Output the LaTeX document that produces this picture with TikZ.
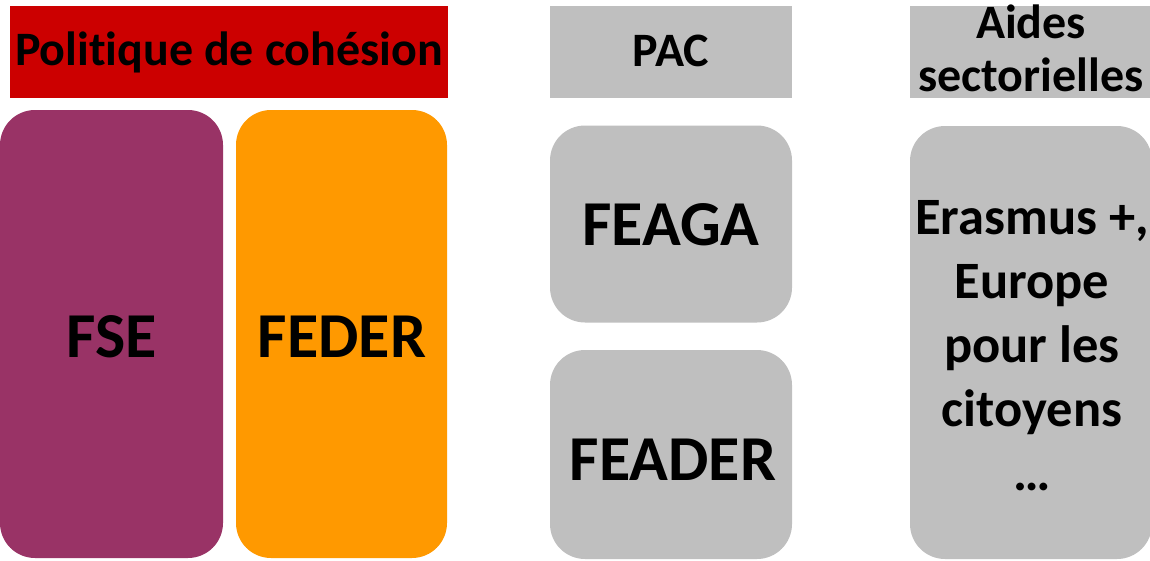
\documentclass[tikz,border=0pt]{standalone}
\usepackage{fontspec}
\setmainfont{Carlito}[Ligatures={NoCommon}]
\definecolor{hred}{HTML}{CC0000}
\definecolor{fsecol}{HTML}{993366}
\definecolor{fedcol}{HTML}{FF9900}
\definecolor{greybox}{HTML}{BFBFBF}
\newcommand{\hdrfont}{\bfseries\fontsize{48}{53}\selectfont}
\newcommand{\bigfont}{\bfseries\fontsize{64}{74}\selectfont}
\newcommand{\midfont}{\bfseries\fontsize{52.5}{64}\selectfont}
\begin{document}
\begin{tikzpicture}[x=1pt,y=-1pt,
  hdrbox/.style={rectangle, inner sep=0pt, draw=none},
  rbox/.style={rectangle, rounded corners=35pt, inner sep=0pt, draw=none},
  lbl/.style={inner sep=0pt, anchor=base, text=black, align=center}]
\useasboundingbox (0,0) rectangle (1150,560);
\clip (0,0) rectangle (1150,560);
% headers
\node[hdrbox, fill=hred, minimum width=438pt, minimum height=92pt] (hpol) at (229,52) {};
\node[hdrbox, fill=greybox, minimum width=242pt, minimum height=92pt] (hpac) at (671,52) {};
\node[hdrbox, fill=greybox, minimum width=260pt, minimum height=92pt] (haid) at (1040,52) {};
% boxes
\node[rbox, fill=fsecol, minimum width=223pt, minimum height=448pt] (bfse) at (111.5,334) {};
\node[rbox, fill=fedcol, minimum width=211pt, minimum height=448pt] (bfed) at (341.5,334) {};
\node[rbox, fill=greybox, minimum width=242pt, minimum height=197pt] (bfeaga) at (671,224) {};
\node[rbox, fill=greybox, minimum width=242pt, minimum height=209pt] (bfeader) at (671,454.5) {};
\node[rbox, fill=greybox, minimum width=242pt, minimum height=433pt] (beras) at (1031,342.5) {};
% texts
\node[lbl, font=\hdrfont] (tpol) at (229,65) {Politique de cohésion};
\node[lbl, font=\hdrfont] (tpac) at (671,66) {PAC};
\node[lbl, font=\hdrfont] (taid) at (1031,91) {Aides\\sectorielles};
\node[lbl, font=\bigfont] (tfse) at (111.5,357) {FSE};
\node[lbl, font=\bigfont] (tfed) at (342,357) {FEDER};
\node[lbl, font=\bigfont] (tfeaga) at (671,245) {FEAGA};
\node[lbl, font=\bigfont] (tfeader) at (673,480) {FEADER};
\node[lbl, font=\midfont] (teras) at (1032,490) {Erasmus +,\\Europe\\pour les\\citoyens\\…};
\end{tikzpicture}
\end{document}
